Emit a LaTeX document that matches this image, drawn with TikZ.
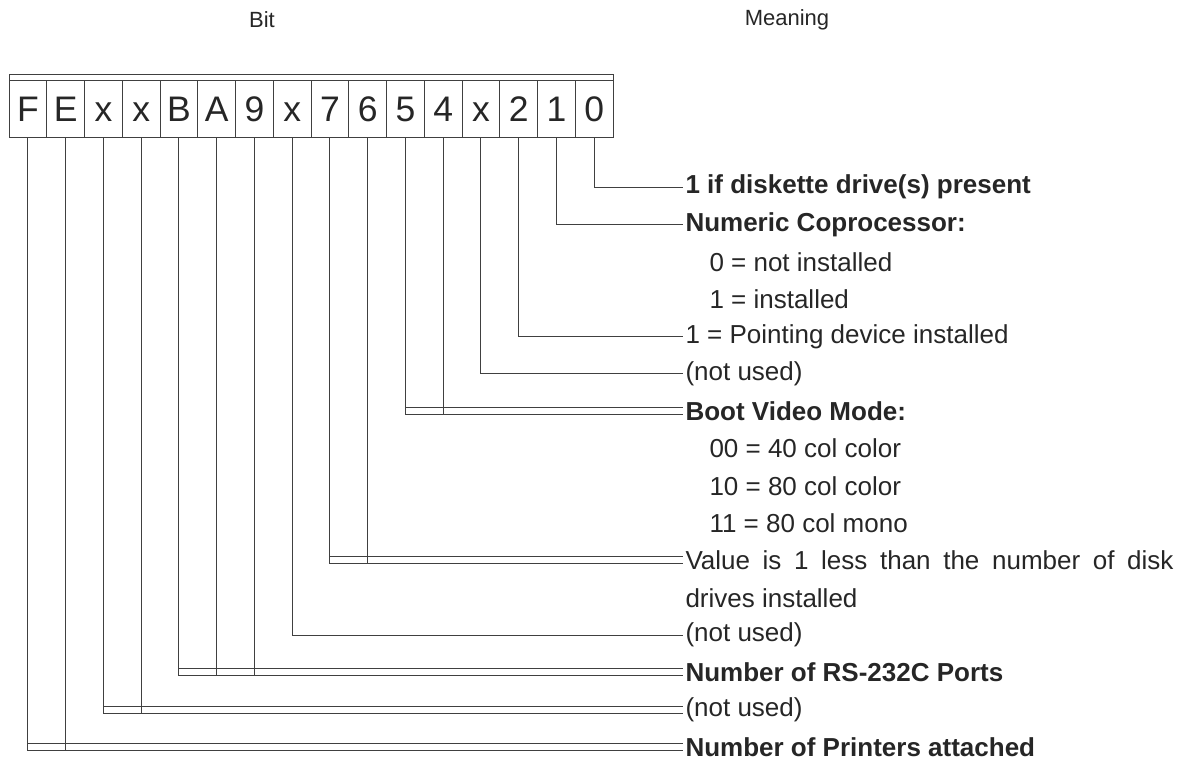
\documentclass[tikz,border=0pt]{standalone}
\usepackage{fontspec}
\setmainfont{Liberation Sans}
\usepackage{tikz}
\usetikzlibrary{positioning}

\begin{document}
\begin{tikzpicture}[x=1pt,y=-1pt,
    line width=1pt, draw=black!75,
    cell/.style={draw, minimum width=37.75pt, minimum height=57pt,
        inner sep=0pt, outer sep=0pt, text height=25.5pt, text depth=0pt,
        text=black!85, font=\fontsize{35.5}{40}\selectfont},
    meaning/.style={anchor=west, inner sep=2pt, text=black!85,
        font=\fontsize{26}{30}\selectfont},
    heading/.style={text=black!85, font=\fontsize{22}{26}\selectfont}]
    \useasboundingbox (0,0) rectangle (1193,761);
    % headings
    \node[heading] (hbit) at (262,20) {Bit};
    \node[heading] (hmean) at (787,20) {Meaning};
    % the register, bit 15 on the left
    \foreach \t [count=\k from 0] in {F,E,x,x,B,A,9,x,7,6,5,4,x,2,1,0} {
        \pgfmathtruncatemacro\b{15-\k}
        \node[cell] (b\b) at ({9+37.75*(\k+0.5)},108.5) {\t};
    }
    \draw (b15.north west) rectangle ([yshift=6pt]b0.north east);
    % meanings, one row each
    \node[meaning] (m0) at (683,187) {\textbf{1 if diskette drive(s) present}};
    \node[meaning] (m1) at (683,224.3) {\textbf{Numeric Coprocessor:}};
    \node[meaning] (m2) at (707,261.7) {0 = not installed};
    \node[meaning] (m3) at (707,299) {1 = installed};
    \node[meaning] (m4) at (683,336.3) {1 = Pointing device installed};
    \node[meaning] (m5) at (683,373.7) {(not used)};
    \node[meaning] (m6) at (683,411) {\textbf{Boot Video Mode:}};
    \node[meaning] (m7) at (707,448.3) {00 = 40 col color};
    \node[meaning] (m8) at (707,485.7) {10 = 80 col color};
    \node[meaning] (m9) at (707,523) {11 = 80 col mono};
    \node[meaning] (m10) at (683,560.3) {\makebox[488pt][s]{Value is 1 less than the number of disk}};
    \node[meaning] (m11) at (683,597.7) {drives installed};
    \node[meaning] (m12) at (683,635) {(not used)};
    \node[meaning] (m13) at (683,672.3) {\textbf{Number of RS-232C Ports}};
    \node[meaning] (m14) at (683,709.7) {(not used)};
    \node[meaning] (m15) at (683,747) {\textbf{Number of Printers attached}};
    % single leads
    \draw (b0.south) |- (m0.west);
    \draw (b1.south) |- (m1.west);
    \draw (b2.south) |- (m4.west);
    \draw (b3.south) |- (m5.west);
    \draw (b8.south) |- (m12.west);
    % double leads for bit groups
    \foreach \hi/\lo/\r in {5/4/6, 7/6/10, 11/9/13, 13/12/14, 15/14/15} {
        \coordinate (u\r) at ([yshift=3.5pt]m\r.west);
        \coordinate (l\r) at ([yshift=-3.5pt]m\r.west);
        \draw (b\hi.south |- u\r) -- (u\r);
        \draw (b\hi.south) |- (l\r);
    }
    \draw (b4.south) -- (b4.south |- l6);
    \draw (b6.south) -- (b6.south |- l10);
    \draw (b10.south) -- (b10.south |- l13);
    \draw (b9.south) -- (b9.south |- l13);
    \draw (b12.south) -- (b12.south |- l14);
    \draw (b14.south) -- (b14.south |- l15);
\end{tikzpicture}
\end{document}
